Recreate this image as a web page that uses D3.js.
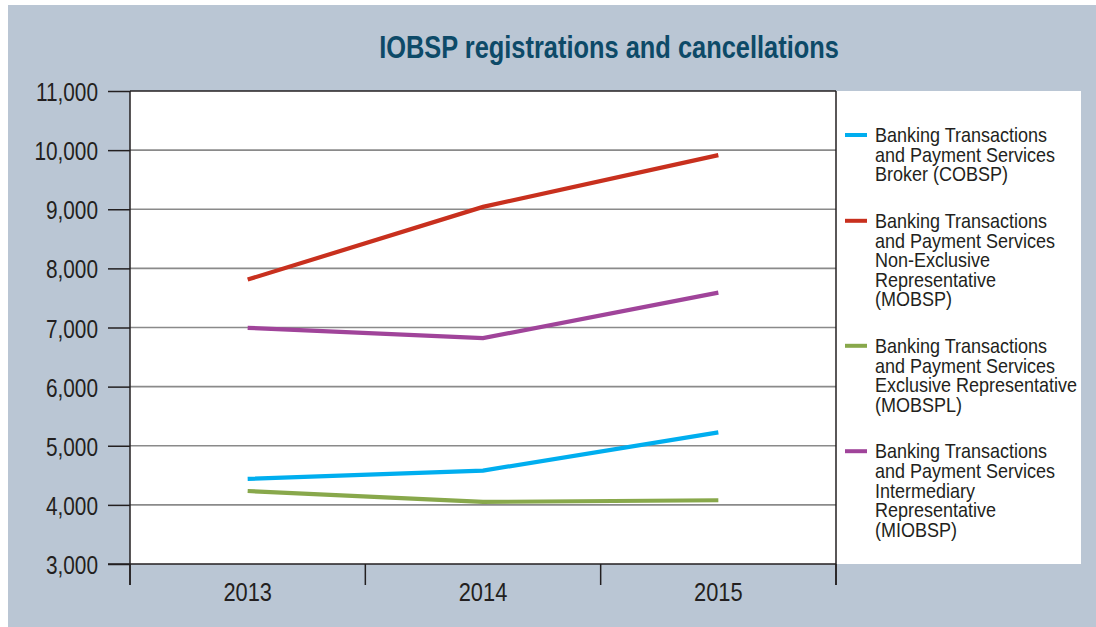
<!DOCTYPE html>
<html>
<head>
<meta charset="utf-8">
<script src="https://cdn.jsdelivr.net/npm/d3@7/dist/d3.min.js"></script>
<style>
  html, body { margin: 0; padding: 0; background: #ffffff; }
  svg { display: block; }
  text { font-family: "Liberation Sans", Arial, sans-serif; fill: #231f20; }
</style>
</head>
<body>
<svg id="chart" width="1096" height="627"></svg>
<script>
// Registered intermediaries by year
const years = ["2013", "2014", "2015"];
const cobsp  = [4440, 4580, 5225];
const mobsp  = [7810, 9040, 9915];
const mobspl = [4235, 4050, 4078];
const miobsp = [6995, 6820, 7590];

const seriesNames = [
  ["Banking Transactions", "and Payment Services", "Broker (COBSP)"],
  ["Banking Transactions", "and Payment Services", "Non-Exclusive", "Representative", "(MOBSP)"],
  ["Banking Transactions", "and Payment Services", "Exclusive Representative", "(MOBSPL)"],
  ["Banking Transactions", "and Payment Services", "Intermediary", "Representative", "(MIOBSP)"]
];
const seriesColors = ["#00aeef", "#c8301e", "#88a84b", "#a0449a"];
const yTicks = [3000, 4000, 5000, 6000, 7000, 8000, 9000, 10000, 11000];
const title = "IOBSP registrations and cancellations";

const series = [cobsp, mobsp, mobspl, miobsp];

const svg = d3.select("#chart");
const W = 1096, H = 627;
const plot = { left: 130, right: 836, top: 91, bottom: 564 };
const ink = "#231f20";

// condensed lettering: narrow the glyphs horizontally around the anchor point
function narrowText(sel, px, py, sx) {
  return sel.attr("x", null).attr("y", null)
    .attr("transform", `translate(${px},${py}) scale(${sx},1)`);
}

// panel background
svg.append("rect").attr("x", 8).attr("y", 5).attr("width", W - 8).attr("height", H - 5)
  .attr("fill", "#bac6d4");

// white plot and legend areas
svg.append("rect").attr("x", plot.left).attr("y", plot.top)
  .attr("width", 1081 - plot.left).attr("height", plot.bottom - plot.top)
  .attr("fill", "#ffffff");

// title
narrowText(svg.append("text").attr("text-anchor", "middle")
  .style("font-size", "31px").style("font-weight", "bold").style("fill", "#0d4a68")
  .text(title), 609, 58, 0.82);

const x = d3.scaleBand().domain(years).range([plot.left, plot.right]);
const y = d3.scaleLinear().domain([3000, 11000]).range([plot.bottom, plot.top]);

// gridlines
svg.append("g").selectAll("line").data(yTicks.filter(t => t > 3000 && t < 11000)).join("line")
  .attr("x1", plot.left).attr("x2", plot.right)
  .attr("y1", d => y(d)).attr("y2", d => y(d))
  .attr("stroke", "#8a8a8a").attr("stroke-width", 1.6);

// plot frame: top and right edges
svg.append("line").attr("x1", plot.left).attr("x2", plot.right)
  .attr("y1", plot.top).attr("y2", plot.top).attr("stroke", ink).attr("stroke-width", 1.5);
svg.append("line").attr("x1", plot.right).attr("x2", plot.right)
  .attr("y1", plot.top).attr("y2", 585).attr("stroke", ink).attr("stroke-width", 1.5);

// y axis
const yAxis = svg.append("g").attr("transform", `translate(${plot.left},0)`)
  .call(d3.axisLeft(y).tickValues(yTicks).tickFormat(d3.format(",")).tickSize(22).tickPadding(10));
yAxis.select(".domain").attr("d", `M0,${plot.top}V585`).attr("stroke", ink).attr("stroke-width", 1.5);
yAxis.selectAll(".tick line").attr("stroke", ink).attr("stroke-width", 1.5);
yAxis.selectAll(".tick text").attr("fill", ink).attr("dy", null)
  .style("font-size", "26px").style("font-family", "'Liberation Sans', Arial, sans-serif")
  .each(function () { narrowText(d3.select(this), -32, 9.5, 0.8); });

// x axis with ticks at band boundaries
const xAxis = svg.append("g").attr("transform", `translate(0,${plot.bottom})`);
xAxis.append("line").attr("x1", 108).attr("x2", plot.right).attr("y1", 0).attr("y2", 0)
  .attr("stroke", ink).attr("stroke-width", 1.5);
const bounds = years.map(d => x(d)).concat([x(years[years.length - 1]) + x.bandwidth()]);
xAxis.selectAll("line.bt").data(bounds).join("line").attr("class", "bt")
  .attr("x1", d => d).attr("x2", d => d).attr("y1", 0).attr("y2", 21)
  .attr("stroke", ink).attr("stroke-width", 1.5);
xAxis.selectAll("text").data(years).join("text")
  .attr("text-anchor", "middle").style("font-size", "26px").text(d => d)
  .each(function (d) { narrowText(d3.select(this), x(d) + x.bandwidth() / 2, 37, 0.84); });

// series lines
const line = d3.line().x((d, i) => x(years[i]) + x.bandwidth() / 2).y(d => y(d));
svg.append("g").selectAll("path").data(series).join("path")
  .attr("d", d => line(d)).attr("fill", "none")
  .attr("stroke", (d, i) => seriesColors[i]).attr("stroke-width", 4.2);

// legend
const lh = 19.6, gap = 27;
let ly = 135;
const lg = svg.append("g");
seriesNames.forEach((lines, i) => {
  lg.append("line").attr("x1", 845).attr("x2", 867).attr("y1", ly).attr("y2", ly)
    .attr("stroke", seriesColors[i]).attr("stroke-width", 4);
  const t = narrowText(lg.append("text").style("font-size", "20px"), 875, ly + 7.2, 0.9);
  lines.forEach((s, j) => {
    t.append("tspan").attr("x", 0).attr("dy", j === 0 ? 0 : lh).text(s);
  });
  ly += lines.length * lh + gap;
});
</script>
</body>
</html>
